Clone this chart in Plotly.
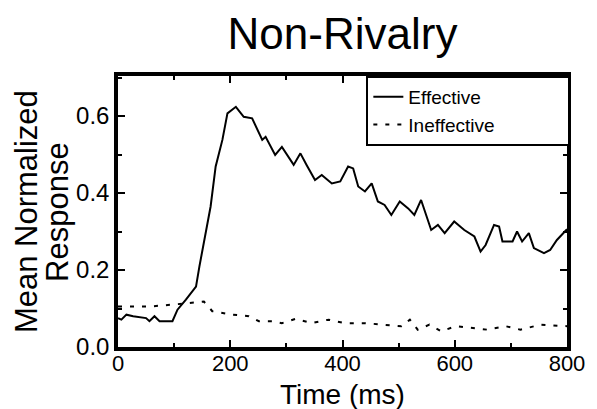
import plotly.graph_objects as go

# Effective (solid)
eff_t = [0, 6, 15, 27, 50, 56, 65, 74, 97, 106, 121, 139, 145, 156, 165, 174, 186, 195, 210, 224,
         239, 257, 263, 280, 292, 313, 325, 336, 351, 363, 381, 396, 410, 419, 428, 440, 452,
         463, 475, 487, 502, 517, 528, 540, 558, 570, 582, 599, 617, 635, 646, 655, 670, 679,
         685, 703, 711, 720, 732, 741, 759, 770, 782, 800]
eff_v = [0.075, 0.071, 0.084, 0.080, 0.075, 0.067, 0.080, 0.067, 0.067, 0.097, 0.123, 0.157,
         0.209, 0.296, 0.365, 0.469, 0.538, 0.607, 0.624, 0.598, 0.594, 0.538, 0.546, 0.499,
         0.520, 0.473, 0.503, 0.473, 0.434, 0.447, 0.425, 0.430, 0.469, 0.464, 0.417, 0.404,
         0.425, 0.378, 0.369, 0.343, 0.378, 0.360, 0.343, 0.382, 0.304, 0.317, 0.296, 0.326,
         0.304, 0.287, 0.248, 0.265, 0.317, 0.313, 0.274, 0.274, 0.300, 0.274, 0.296, 0.257,
         0.244, 0.252, 0.278, 0.306]

# Ineffective (dashed)
ineff_t = [0, 6, 56, 97, 127, 153, 168, 204, 233, 251, 275, 292, 316, 345, 375, 404, 440, 469,
           505, 520, 534, 555, 576, 602, 635, 658, 691, 717, 753, 800]
ineff_v = [0.105, 0.105, 0.105, 0.110, 0.114, 0.118, 0.093, 0.084, 0.080, 0.067, 0.067, 0.062,
           0.073, 0.062, 0.071, 0.062, 0.062, 0.058, 0.054, 0.071, 0.045, 0.058, 0.041, 0.054,
           0.049, 0.045, 0.054, 0.045, 0.058, 0.054]

x_ticks = [0, 200, 400, 600, 800]
y_ticks = [0.0, 0.2, 0.4, 0.6]
y_tick_labels = ["0.0", "0.2", "0.4", "0.6"]

FONT = "Liberation Sans, Arial, Helvetica, sans-serif"
PAD = "\u00a0" * 13

fig = go.Figure()
fig.add_trace(go.Scatter(x=eff_t, y=eff_v, mode="lines", name="Effective",
                         line=dict(color="black", width=2)))
fig.add_trace(go.Scatter(x=ineff_t, y=ineff_v, mode="lines", name="Ineffective" + PAD,
                         line=dict(color="black", width=2, dash="4px,8px")))

axis_common = dict(showline=True, linecolor="black", linewidth=3.5, mirror="allticks",
                   ticks="inside", ticklen=7, tickwidth=2, tickcolor="black",
                   showgrid=False, zeroline=False)

fig.update_xaxes(range=[0, 800], tickvals=x_ticks, ticklabelstandoff=-6,
                 tickfont=dict(family=FONT, size=22, color="black"),
                 minor=dict(dtick=100, ticks="inside", ticklen=4, tickwidth=1.5, tickcolor="black"),
                 **axis_common)
fig.update_yaxes(range=[0, 0.704], tickvals=y_ticks, ticktext=y_tick_labels,
                 tickfont=dict(family=FONT, size=24, color="black"),
                 minor=dict(dtick=0.1, ticks="inside", ticklen=4, tickwidth=1.5, tickcolor="black"),
                 **axis_common)

fig.update_layout(
    width=597, height=409,
    margin=dict(l=118, r=27, t=76, b=62),
    paper_bgcolor="white", plot_bgcolor="white",
    font=dict(family=FONT, color="black"),
    title=dict(text="Non-Rivalry", x=0.5, xref="paper", xanchor="center",
               y=1 - 34 / 409, yref="container", yanchor="middle",
               font=dict(family=FONT, size=44, color="black")),
    legend=dict(x=(368 - 118) / 452, y=1, xanchor="left", yanchor="top",
                bordercolor="black", borderwidth=2, bgcolor="white",
                font=dict(family=FONT, size=19, color="black"),
                itemwidth=30, tracegroupgap=0),
    annotations=[
        dict(text="Time (ms)", x=0.5, y=-47 / 271, xref="paper", yref="paper",
             xanchor="center", yanchor="middle", showarrow=False,
             font=dict(family=FONT, size=28, color="black")),
        dict(text="Mean Normalized", x=(26 - 118) / 452, y=0.5, xref="paper", yref="paper",
             xanchor="center", yanchor="middle", textangle=-90, showarrow=False,
             font=dict(family=FONT, size=31, color="black")),
        dict(text="Response", x=(57 - 118) / 452, y=0.5, xref="paper", yref="paper",
             xanchor="center", yanchor="middle", textangle=-90, showarrow=False,
             font=dict(family=FONT, size=31, color="black")),
    ],
)

fig.write_html("out.html")
